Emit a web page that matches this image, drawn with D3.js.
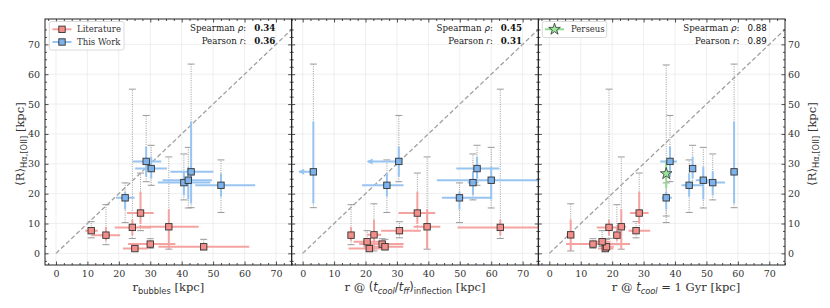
<!DOCTYPE html>
<html><head><meta charset="utf-8">
<script src="https://cdn.jsdelivr.net/npm/d3@7"></script>
<style>body{margin:0;background:#fff} svg{display:block}</style>
</head><body><svg id="c" width="830" height="308"></svg>
<script>
// ---------------- data ----------------
const xDomain = [-3.5, 75];
const yDomain = [-3.9, 78.5];
const majorTicks = [0, 10, 20, 30, 40, 50, 60, 70];
const majorTickLabels = ["0", "10", "20", "30", "40", "50", "60", "70"];

// Literature (10 clusters)
const litY      = [7.6, 6.1, 1.6, 3.1, 8.7, 13.5, 8.9, 2.2, 3.9, 6.2];
const litYErrLo = [6.8, 4.2, 1.0, 2.5, 6.0, 9.8, 1.5, 1.5, 3.2, 1.1];
const litYErrHi = [8.4, 8.8, 2.2, 3.7, 11.2, 20.6, 14.8, 2.9, 4.6, 11.3];
const litGrayLo = [5.2, 2.9, 1.1, 1.7, 5.0, 7.6, 1.4, 1.2, 2.3, 0.8];
const litGrayHi = [10.6, 16.3, 2.3, 4.9, 55.0, 26.9, 32.3, 4.7, 7.6, 16.6];
const litXBubbles   = [11.2, 15.9, 25.1, 30.0, 24.3, 26.9, 35.9, 47.0, null, null];
const litXBubblesLo = [9.3, 11.4, 21.3, 22.9, 18.7, 22.6, 26.3, 32.6, null, null];
const litXBubblesHi = [13.3, 20.4, 29.3, 38.0, 30.3, 31.1, 45.4, 61.5, null, null];
const litXInfl   = [30.8, 15.4, 21.2, 25.3, 62.9, 36.5, 39.6, 26.2, 20.5, 22.7];
const litXInflLo = [25.0, 14.5, 14.6, 18.0, 49.3, 30.5, 35.3, 19.5, 16.2, 20.5];
const litXInflHi = [37.5, 16.5, 25.2, 32.1, 78.0, 42.2, 43.8, 32.0, 26.3, 25.0];
const litXCool   = [27.6, 21.5, 17.8, 13.9, 19.0, 28.6, 22.9, 18.2, 16.8, 6.8];
const litXCoolLo = [25.2, 20.5, 15.5, 5.3, 15.1, 25.7, 21.5, 16.5, 14.0, 5.5];
const litXCoolHi = [32.1, 22.5, 20.4, 25.7, 23.6, 31.6, 24.5, 20.5, 19.5, 8.0];

// This Work (7 clusters)
const twY      = [18.6, 30.8, 28.4, 23.7, 24.5, 27.3, 22.8];
const twYErrLo = [14.7, 25.7, 25.1, 19.5, 18.0, 16.7, 19.0];
const twYErrHi = [20.7, 35.7, 32.4, 27.5, 29.0, 44.2, 26.8];
const twGrayLo = [10.3, 24.0, 22.8, 17.9, 15.2, 15.3, 13.7];
const twGrayHi = [23.6, 46.2, 36.2, 33.3, 35.5, 63.4, 31.3];
const twXBubbles   = [22.0, 28.7, 30.3, 40.7, 42.1, 43.0, 52.5];
const twXBubblesLo = [19.1, 24.4, 25.2, 32.4, 33.9, 36.4, 44.3];
const twXBubblesHi = [25.0, 33.5, 35.3, 49.1, 49.6, 50.1, 63.4];
const twXInfl   = [49.9, 30.6, 55.5, 54.2, 60.0, 3.4, 26.8];
const twXInflLo = [44.3, 20.7, 48.9, 52.5, 42.7, -1.1, 18.9];
const twXInflHi = [60.3, 30.6, 62.6, 56.0, 80.0, 3.4, 32.1];
const twInflUpperLimit = [false, true, false, false, false, true, false];
const twXCool   = [37.2, 38.4, 45.6, 52.0, 49.0, 58.8, 44.5];
const twXCoolLo = [35.8, 35.3, 44.8, 50.1, 46.6, 57.7, 42.1];
const twXCoolHi = [39.0, 40.6, 46.5, 55.9, 52.2, 59.8, 49.0];

// Perseus (panel 3 only)
const perseusX = [37.2];
const perseusY = [26.7];
const perseusYErrLo = [21.7];
const perseusYErrHi = [31.3];
const perseusGrayLo = [12.5];
const perseusGrayHi = [63.1];

const spearman = ["0.34", "0.45", "0.88"];
const pearson  = ["0.36", "0.31", "0.89"];

// ---------------- layout / style ----------------
const svg = d3.select("#c");
const W = 246.67, TOP = 19, BOTTOM = 265;
const panelLefts = [45, 291.67, 538.33];
const SERIF = "'DejaVu Serif', serif", SANS = "'DejaVu Sans', sans-serif";
const RED_ERR = "#f5a3a0", RED_FILL = "#f28f8a";
const BLUE_ERR = "#98c4f1", BLUE_FILL = "#7db3ea";
const GREEN_ERR = "#8fdc8f", GREEN_FILL = "#9be89b";
const GRAY = "#9a9a9a";
const STAR_SIZE = 42;

const minorTicks = d3.range(-2.5, 76, 2.5).filter(v => Math.abs(v % 10) > 1e-6);

const panelX = [
  {lit: [litXBubbles, litXBubblesLo, litXBubblesHi], tw: [twXBubbles, twXBubblesLo, twXBubblesHi], up: null},
  {lit: [litXInfl, litXInflLo, litXInflHi], tw: [twXInfl, twXInflLo, twXInflHi], up: twInflUpperLimit},
  {lit: [litXCool, litXCoolLo, litXCoolHi], tw: [twXCool, twXCoolLo, twXCoolHi], up: null}
];

const defs = svg.append("defs");

panelX.forEach((p, i) => {
  const L = panelLefts[i];
  const x = d3.scaleLinear().domain(xDomain).range([L, L + W]);
  const y = d3.scaleLinear().domain(yDomain).range([BOTTOM, TOP]);
  const g = svg.append("g");
  const cid = "clip" + i;
  defs.append("clipPath").attr("id", cid).append("rect")
    .attr("x", L).attr("y", TOP).attr("width", W).attr("height", BOTTOM - TOP);

  // grid
  const grid = g.append("g").attr("stroke", "#ebebeb").attr("stroke-width", 0.8);
  grid.selectAll(".gx").data(majorTicks).join("line")
    .attr("x1", d => x(d)).attr("x2", d => x(d)).attr("y1", TOP).attr("y2", BOTTOM);
  grid.selectAll(".gy").data(majorTicks).join("line")
    .attr("y1", d => y(d)).attr("y2", d => y(d)).attr("x1", L).attr("x2", L + W);

  const dg = g.append("g").attr("clip-path", `url(#${cid})`);
  // 1:1 line
  dg.append("line").attr("x1", x(0)).attr("y1", y(0)).attr("x2", x(75)).attr("y2", y(75))
    .attr("stroke", "#a0a0a0").attr("stroke-width", 1.3).attr("stroke-dasharray", "4.5,2.5");

  // build point list
  const pts = [];
  litY.forEach((v, k) => {
    if (p.lit[0][k] == null) return;
    pts.push({x: p.lit[0][k], xlo: p.lit[1][k], xhi: p.lit[2][k], y: v, ylo: litYErrLo[k], yhi: litYErrHi[k],
      glo: litGrayLo[k], ghi: litGrayHi[k], err: RED_ERR, fill: RED_FILL, up: false, kind: "sq"});
  });
  twY.forEach((v, k) => {
    pts.push({x: p.tw[0][k], xlo: p.tw[1][k], xhi: p.tw[2][k], y: v, ylo: twYErrLo[k], yhi: twYErrHi[k],
      glo: twGrayLo[k], ghi: twGrayHi[k], err: BLUE_ERR, fill: BLUE_FILL, up: p.up ? p.up[k] : false, kind: "sq"});
  });
  if (i === 2) {
    perseusX.forEach((v, k) => pts.push({x: v, xlo: v, xhi: v, y: perseusY[k], ylo: perseusYErrLo[k], yhi: perseusYErrHi[k],
      glo: perseusGrayLo[k], ghi: perseusGrayHi[k], err: GREEN_ERR, fill: GREEN_FILL, up: false, kind: "star"}));
  }

  // gray dotted ranges
  const gg = dg.append("g").attr("stroke", GRAY).attr("stroke-width", 1);
  pts.forEach(d => {
    gg.append("line").attr("x1", x(d.x)).attr("x2", x(d.x)).attr("y1", y(d.glo)).attr("y2", y(d.ghi))
      .attr("stroke-dasharray", "1,1.3");
    [d.glo, d.ghi].forEach(c => gg.append("line").attr("x1", x(d.x) - 3.5).attr("x2", x(d.x) + 3.5)
      .attr("y1", y(c)).attr("y2", y(c)));
  });

  // colored error bars
  const eg = dg.append("g").attr("stroke-width", 2);
  pts.forEach(d => {
    eg.append("line").attr("x1", x(d.xlo)).attr("x2", x(d.xhi)).attr("y1", y(d.y)).attr("y2", y(d.y)).attr("stroke", d.err);
    eg.append("line").attr("x1", x(d.x)).attr("x2", x(d.x)).attr("y1", y(d.ylo)).attr("y2", y(d.yhi)).attr("stroke", d.err);
    if (d.up) {
      const ax = x(d.xlo), ay = y(d.y);
      eg.append("path").attr("d", `M${ax - 1},${ay}L${ax + 5},${ay - 3}L${ax + 5},${ay + 3}Z`)
        .attr("fill", d.err).attr("stroke", "none");
    }
  });

  // markers
  const mg = dg.append("g");
  pts.forEach(d => {
    if (d.kind === "sq") {
      mg.append("rect").attr("x", x(d.x) - 3.2).attr("y", y(d.y) - 3.2).attr("width", 6.4).attr("height", 6.4)
        .attr("fill", d.fill).attr("stroke", "#333").attr("stroke-width", 0.9);
    } else {
      mg.append("path").attr("d", d3.symbol(d3.symbolStar, STAR_SIZE)())
        .attr("transform", `translate(${x(d.x)},${y(d.y)})`)
        .attr("fill", d.fill).attr("stroke", "#333").attr("stroke-width", 0.8);
    }
  });

  // axes
  const styleAxis = sel => {
    sel.select(".domain").remove();
    sel.selectAll("line").attr("stroke", "#222").attr("stroke-width", 0.8);
    sel.selectAll("text").style("font-family", SERIF).style("font-size", "9.5px").attr("fill", "#333");
  };
  const fmt = d => majorTickLabels[majorTicks.indexOf(d)];
  g.append("g").attr("transform", `translate(0,${BOTTOM})`)
    .call(d3.axisBottom(x).tickValues(majorTicks).tickSize(-3.5).tickPadding(5).tickFormat(fmt)).call(styleAxis);
  g.append("g").attr("transform", `translate(0,${BOTTOM})`)
    .call(d3.axisBottom(x).tickValues(minorTicks).tickSize(-2).tickFormat("")).call(styleAxis);
  g.append("g").attr("transform", `translate(0,${TOP})`)
    .call(d3.axisTop(x).tickValues(majorTicks).tickSize(-3.5).tickFormat("")).call(styleAxis);
  g.append("g").attr("transform", `translate(0,${TOP})`)
    .call(d3.axisTop(x).tickValues(minorTicks).tickSize(-2).tickFormat("")).call(styleAxis);
  g.append("g").attr("transform", `translate(${L},0)`)
    .call(d3.axisLeft(y).tickValues(majorTicks).tickSize(-3.5).tickPadding(5).tickFormat(i === 0 ? fmt : "")).call(styleAxis);
  g.append("g").attr("transform", `translate(${L},0)`)
    .call(d3.axisLeft(y).tickValues(minorTicks.filter(v => v > -3.5)).tickSize(-2).tickFormat("")).call(styleAxis);
  g.append("g").attr("transform", `translate(${L + W},0)`)
    .call(d3.axisRight(y).tickValues(majorTicks).tickSize(-3.5).tickPadding(3).tickFormat(i === 2 ? fmt : "")).call(styleAxis);
  g.append("g").attr("transform", `translate(${L + W},0)`)
    .call(d3.axisRight(y).tickValues(minorTicks.filter(v => v > -3.5)).tickSize(-2).tickFormat("")).call(styleAxis);

  // frame
  g.append("rect").attr("x", L).attr("y", TOP).attr("width", W).attr("height", BOTTOM - TOP)
    .attr("fill", "none").attr("stroke", "#222").attr("stroke-width", 1);

  // stats
  const R = L + W;
  const st = g.append("g").style("font-size", "8.7px");
  const t1 = st.append("text").attr("x", R - 45.5).attr("y", 31).attr("text-anchor", "end")
    .style("font-family", SERIF).attr("fill", "#222");
  t1.append("tspan").text("Spearman ");
  t1.append("tspan").style("font-style", "italic").style("font-family", SANS).text("ρ");
  t1.append("tspan").text(":");
  const t2 = st.append("text").attr("x", R - 45.5).attr("y", 43.5).attr("text-anchor", "end")
    .style("font-family", SERIF).attr("fill", "#222");
  t2.append("tspan").text("Pearson ");
  t2.append("tspan").style("font-style", "italic").style("font-family", SANS).text("r");
  t2.append("tspan").text(":");
  const vFam = i === 2 ? SANS : SERIF;
  const vW = i === 2 ? "normal" : "bold";
  st.append("text").attr("x", R - 37.5).attr("y", 31).style("font-family", vFam).style("font-weight", vW)
    .attr("fill", "#111").text(spearman[i]);
  st.append("text").attr("x", R - 37.5).attr("y", 43.5).style("font-family", vFam).style("font-weight", vW)
    .attr("fill", "#111").text(pearson[i]);
});

// ---------------- axis labels ----------------
function xLabel(cx, parts) {
  const t = svg.append("text").attr("x", cx).attr("y", 291).attr("text-anchor", "middle")
    .style("font-family", SERIF).style("font-size", "11.5px").attr("fill", "#333");
  let cur = 0;
  parts.forEach(([txt, opt]) => {
    const o = opt || {};
    const sh = o.sub ? 3 : 0;
    const ts = t.append("tspan").attr("dy", sh - cur).text(txt);
    cur = sh;
    if (o.sans) ts.style("font-family", SANS);
    if (o.it) ts.style("font-style", "italic");
    if (o.sub) ts.style("font-size", "8.3px");
  });
  return t;
}
xLabel(45 + W / 2, [["r"], ["bubbles", {sub: 1, sans: 1}], [" [kpc]"]]);
xLabel(291.67 + W / 2, [["r @ "], ["(", {sans: 1}], ["t", {sans: 1, it: 1}], ["cool", {sub: 1, sans: 1, it: 1}],
  ["/", {sans: 1}], ["t", {sans: 1, it: 1}], ["ff", {sub: 1, sans: 1, it: 1}], [")", {sans: 1}],
  ["inflection", {sub: 1, sans: 1}], [" [kpc]"]]);
xLabel(676, [["r @ "], ["t", {sans: 1, it: 1}], ["cool", {sub: 1, sans: 1, it: 1}], [" = 1 Gyr [kpc]"]]);

function yLabel(bx) {
  const t = svg.append("text").attr("transform", `translate(${bx},144) rotate(-90)`).attr("text-anchor", "middle")
    .style("font-family", SERIF).style("font-size", "11.5px").attr("fill", "#333");
  t.append("tspan").style("font-family", SANS).text("⟨");
  t.append("tspan").text("R");
  t.append("tspan").style("font-family", SANS).text("⟩");
  t.append("tspan").attr("dy", 3).style("font-family", SANS).style("font-size", "8.3px").text("Hα,[OII]");
  t.append("tspan").attr("dy", -3).text(" [kpc]");
}
yLabel(23.5);
yLabel(816);

// ---------------- legends ----------------
function legendBox(x0, y0, w, h) {
  svg.append("rect").attr("x", x0).attr("y", y0).attr("width", w).attr("height", h).attr("rx", 2)
    .attr("fill", "#fff").attr("fill-opacity", 0.85).attr("stroke", "#d0d0d0").attr("stroke-width", 0.8);
}
legendBox(49.3, 21.5, 74.7, 28.5);
[["Literature", RED_ERR, RED_FILL, 29.3], ["This Work", BLUE_ERR, BLUE_FILL, 42]].forEach(([lab, ec, fc, yy]) => {
  svg.append("line").attr("x1", 52.5).attr("x2", 71.5).attr("y1", yy).attr("y2", yy).attr("stroke", ec).attr("stroke-width", 2);
  svg.append("rect").attr("x", 62 - 3.2).attr("y", yy - 3.2).attr("width", 6.4).attr("height", 6.4)
    .attr("fill", fc).attr("stroke", "#333").attr("stroke-width", 0.9);
  svg.append("text").attr("x", 77).attr("y", yy + 3).style("font-family", SERIF).style("font-size", "8.5px")
    .attr("fill", "#333").text(lab);
});
legendBox(542.3, 21.5, 64.4, 16);
svg.append("line").attr("x1", 545).attr("x2", 564).attr("y1", 29.3).attr("y2", 29.3).attr("stroke", GREEN_ERR).attr("stroke-width", 2);
svg.append("path").attr("d", d3.symbol(d3.symbolStar, STAR_SIZE)()).attr("transform", "translate(554.5,29.3)")
  .attr("fill", GREEN_FILL).attr("stroke", "#333").attr("stroke-width", 0.8);
svg.append("text").attr("x", 571).attr("y", 32.3).style("font-family", SERIF).style("font-size", "8.5px")
  .attr("fill", "#333").text("Perseus");
</script></body></html>
